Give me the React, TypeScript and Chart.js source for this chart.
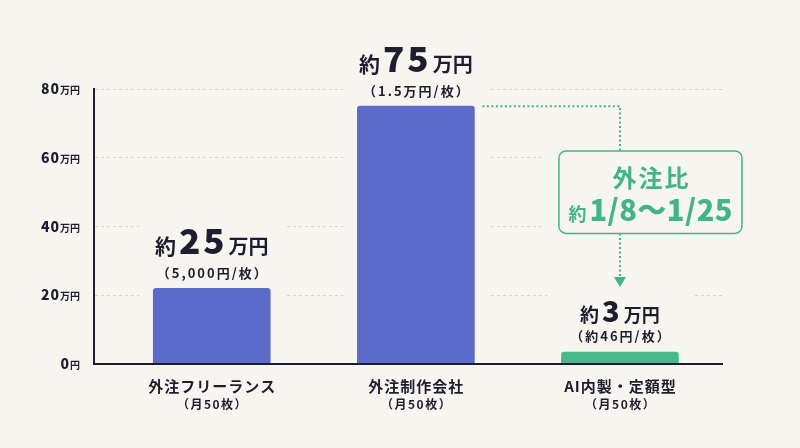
import React, { useEffect, useRef } from "react";
import { Chart, registerables } from "chart.js";

Chart.register(...registerables);

// ---- data ----
const categories = ["外注フリーランス", "外注制作会社", "AI内製・定額型"];
const volumeLabels = ["（月50枚）", "（月50枚）", "（月50枚）"];
const monthlyCost = [22, 75, 3.5]; // bar heights (万円)
const costPrefix = ["約", "約", "約"];
const costFigures = ["25", "75", "3"];
const costUnits = ["万円", "万円", "万円"];
const perSheetLabels = ["（5,000円/枚）", "（1.5万円/枚）", "（約46円/枚）"];
const yTickValues = [0, 20, 40, 60, 80];
const yTickNumbers = ["0", "20", "40", "60", "80"];
const yTickUnits = ["円", "万円", "万円", "万円", "万円"];
const ratioTitle = "外注比";
const ratioPrefix = "約";
const ratioValue = "1/8〜1/25";

// ---- styles ----
const BG = "#f7f5f0";
const DARK = "#1f1d2d";
const GRID = "#d6d3cc";
const BLUE = "#5c6bc9";
const GREEN_BAR = "#47b98d";
const GREEN = "#43b489";
const barColors = [BLUE, BLUE, GREEN_BAR];
const FONT = '"Noto Sans CJK JP", "Noto Sans", sans-serif';
const bigSizes = [35, 35, 29];
const prefixSizes = [21, 21, 19];
const unitSizes = [20, 20, 18];
const bigOffsets = [34, 34, 30];
const subOffsets = [15, 15, 16];

type Run = { t: string; size: number; sp?: number; gap?: number; w?: number };

function font(size: number, weight = 700) {
  return `${weight} ${size}px ${FONT}`;
}

function runWidths(ctx: CanvasRenderingContext2D, runs: Run[]) {
  (ctx as any).letterSpacing = "0px";
  return runs.map((r) => {
    ctx.font = font(r.size, r.w);
    const n = Array.from(r.t).length;
    return ctx.measureText(r.t).width + (r.sp || 0) * Math.max(0, n - 1);
  });
}

function drawRuns(
  ctx: CanvasRenderingContext2D,
  runs: Run[],
  x: number,
  y: number,
  align: "center" | "right" | "left",
  color: string,
  baseline: CanvasTextBaseline = "alphabetic"
) {
  const ws = runWidths(ctx, runs);
  let total = 0;
  ws.forEach((w, i) => {
    total += w + (i < runs.length - 1 ? runs[i].gap || 0 : 0);
  });
  let cx = align === "center" ? x - total / 2 : align === "right" ? x - total : x;
  ctx.textAlign = "left";
  ctx.textBaseline = baseline;
  ctx.fillStyle = color;
  runs.forEach((r, i) => {
    ctx.font = font(r.size, r.w);
    (ctx as any).letterSpacing = `${r.sp || 0}px`;
    ctx.fillText(r.t, cx, y);
    cx += ws[i] + (r.gap || 0);
  });
  (ctx as any).letterSpacing = "0px";
}

const labelPlugin = {
  id: "customLabels",
  beforeDatasetsDraw(chart: any) {
    const ctx: CanvasRenderingContext2D = chart.ctx;
    const area = chart.chartArea;
    const meta = chart.getDatasetMeta(0);
    const yScale = chart.scales.y;
    ctx.save();
    ctx.fillStyle = BG;
    meta.data.forEach((bar: any) => {
      const p = bar.getProps(["x", "y", "width"], true);
      const l = p.x - p.width / 2 - 14;
      const r = p.x + p.width / 2 + 14;
      const t = p.y - 64;
      ctx.fillRect(l, t, r - l, area.bottom - 2 - t);
    });
    const b3 = meta.data[2].getProps(["x"], true);
    const boxL = b3.x - 61;
    const boxT = yScale.getPixelForValue(62);
    const boxB = yScale.getPixelForValue(38);
    ctx.fillRect(boxL - 17, boxT - 4, 183 + 34, boxB - boxT + 8);
    ctx.restore();
  },
  afterDatasetsDraw(chart: any) {
    const ctx: CanvasRenderingContext2D = chart.ctx;
    const area = chart.chartArea;
    const meta = chart.getDatasetMeta(0);
    const yScale = chart.scales.y;
    const bars = meta.data.map((b: any) => b.getProps(["x", "y", "width"], true));
    ctx.save();

    // value labels above bars
    bars.forEach((b: any, i: number) => {
      drawRuns(
        ctx,
        [
          { t: costPrefix[i], size: prefixSizes[i], gap: 3 },
          { t: costFigures[i], size: bigSizes[i], sp: 3, gap: 4, w: 900 },
          { t: costUnits[i], size: unitSizes[i], sp: 0 },
        ],
        b.x,
        b.y - bigOffsets[i],
        "center",
        DARK
      );
      drawRuns(ctx, [{ t: perSheetLabels[i], size: 13, sp: 2 }], b.x, b.y - subOffsets[i], "center", DARK, "middle");
    });

    // category labels
    bars.forEach((b: any, i: number) => {
      drawRuns(ctx, [{ t: categories[i], size: 15, sp: 1 }], b.x, area.bottom + 22, "center", DARK, "middle");
      drawRuns(ctx, [{ t: volumeLabels[i], size: 12, sp: 1.5 }], b.x, area.bottom + 40, "center", DARK, "middle");
    });

    // y tick labels
    yTickValues.forEach((v, i) => {
      const py = yScale.getPixelForValue(v);
      drawRuns(
        ctx,
        [
          { t: yTickNumbers[i], size: 14, sp: 1, gap: 1, w: 900 },
          { t: yTickUnits[i], size: 10 },
        ],
        area.left - 14,
        py + 5,
        "right",
        DARK
      );
    });

    // annotation: dotted connector, box and arrow
    const b2 = bars[1];
    const b3 = bars[2];
    const boxL = b3.x - 61;
    const boxW = 183;
    const boxT = yScale.getPixelForValue(62);
    const boxB = yScale.getPixelForValue(38);
    const tipY = b3.y - 65;

    ctx.strokeStyle = GREEN;
    ctx.lineWidth = 2;
    ctx.setLineDash([2, 2.5]);
    ctx.beginPath();
    ctx.moveTo(b2.x + b2.width / 2 + 8, b2.y);
    ctx.lineTo(b3.x, b2.y);
    ctx.lineTo(b3.x, boxT);
    ctx.stroke();
    ctx.beginPath();
    ctx.moveTo(b3.x, boxB);
    ctx.lineTo(b3.x, tipY - 9);
    ctx.stroke();
    ctx.setLineDash([]);

    ctx.fillStyle = GREEN;
    ctx.beginPath();
    ctx.moveTo(b3.x - 6, tipY - 10);
    ctx.lineTo(b3.x + 6, tipY - 10);
    ctx.lineTo(b3.x, tipY);
    ctx.closePath();
    ctx.fill();

    ctx.fillStyle = BG;
    ctx.strokeStyle = GREEN;
    ctx.lineWidth = 1.5;
    ctx.beginPath();
    (ctx as any).roundRect(boxL, boxT, boxW, boxB - boxT, 7);
    ctx.fill();
    ctx.stroke();

    const cx = boxL + boxW / 2;
    drawRuns(ctx, [{ t: ratioTitle, size: 24, sp: 2 }], cx, boxT + 27, "center", GREEN, "middle");
    drawRuns(
      ctx,
      [
        { t: ratioPrefix, size: 18, gap: 3 },
        { t: ratioValue, size: 29, sp: 0.5, w: 900 },
      ],
      cx,
      boxT + 70,
      "center",
      GREEN
    );

    ctx.restore();
  },
};

export default function App() {
  const ref = useRef<HTMLCanvasElement | null>(null);

  useEffect(() => {
    if (!ref.current) return;
    const chart = new Chart(ref.current, {
      type: "bar",
      data: {
        datasets: [
          {
            data: monthlyCost.map((v, i) => ({ x: i, y: v })) as any,
            backgroundColor: barColors,
            borderRadius: 3,
            borderSkipped: "start",
            barThickness: 117,
          },
        ],
      },
      options: {
        responsive: false,
        animation: false,
        events: [],
        layout: { padding: { left: 94, right: 78, top: 89, bottom: 84 } },
        plugins: { legend: { display: false }, tooltip: { enabled: false } },
        scales: {
          x: {
            type: "linear",
            offset: false,
            min: -0.577,
            max: 2.5,
            grid: { display: false, drawTicks: false, offset: false },
            ticks: { display: false },
            border: { display: true, color: DARK, width: 2, z: 1 },
            afterFit: (s: any) => {
              s.height = 0;
            },
          },
          y: {
            min: 0,
            max: 80,
            ticks: { display: false, stepSize: 20 },
            grid: { color: GRID, lineWidth: 1, drawTicks: false },
            border: { display: true, color: DARK, width: 2, dash: [3, 3], z: 1 },
            afterFit: (s: any) => {
              s.width = 0;
            },
          },
        },
      } as any,
      plugins: [labelPlugin],
    });
    return () => chart.destroy();
  }, []);

  return (
    <div style={{ position: "fixed", left: 0, top: 0, width: 800, height: 448, background: BG }}>
      <canvas ref={ref} width={800} height={448} style={{ display: "block", width: 800, height: 448 }} />
    </div>
  );
}
